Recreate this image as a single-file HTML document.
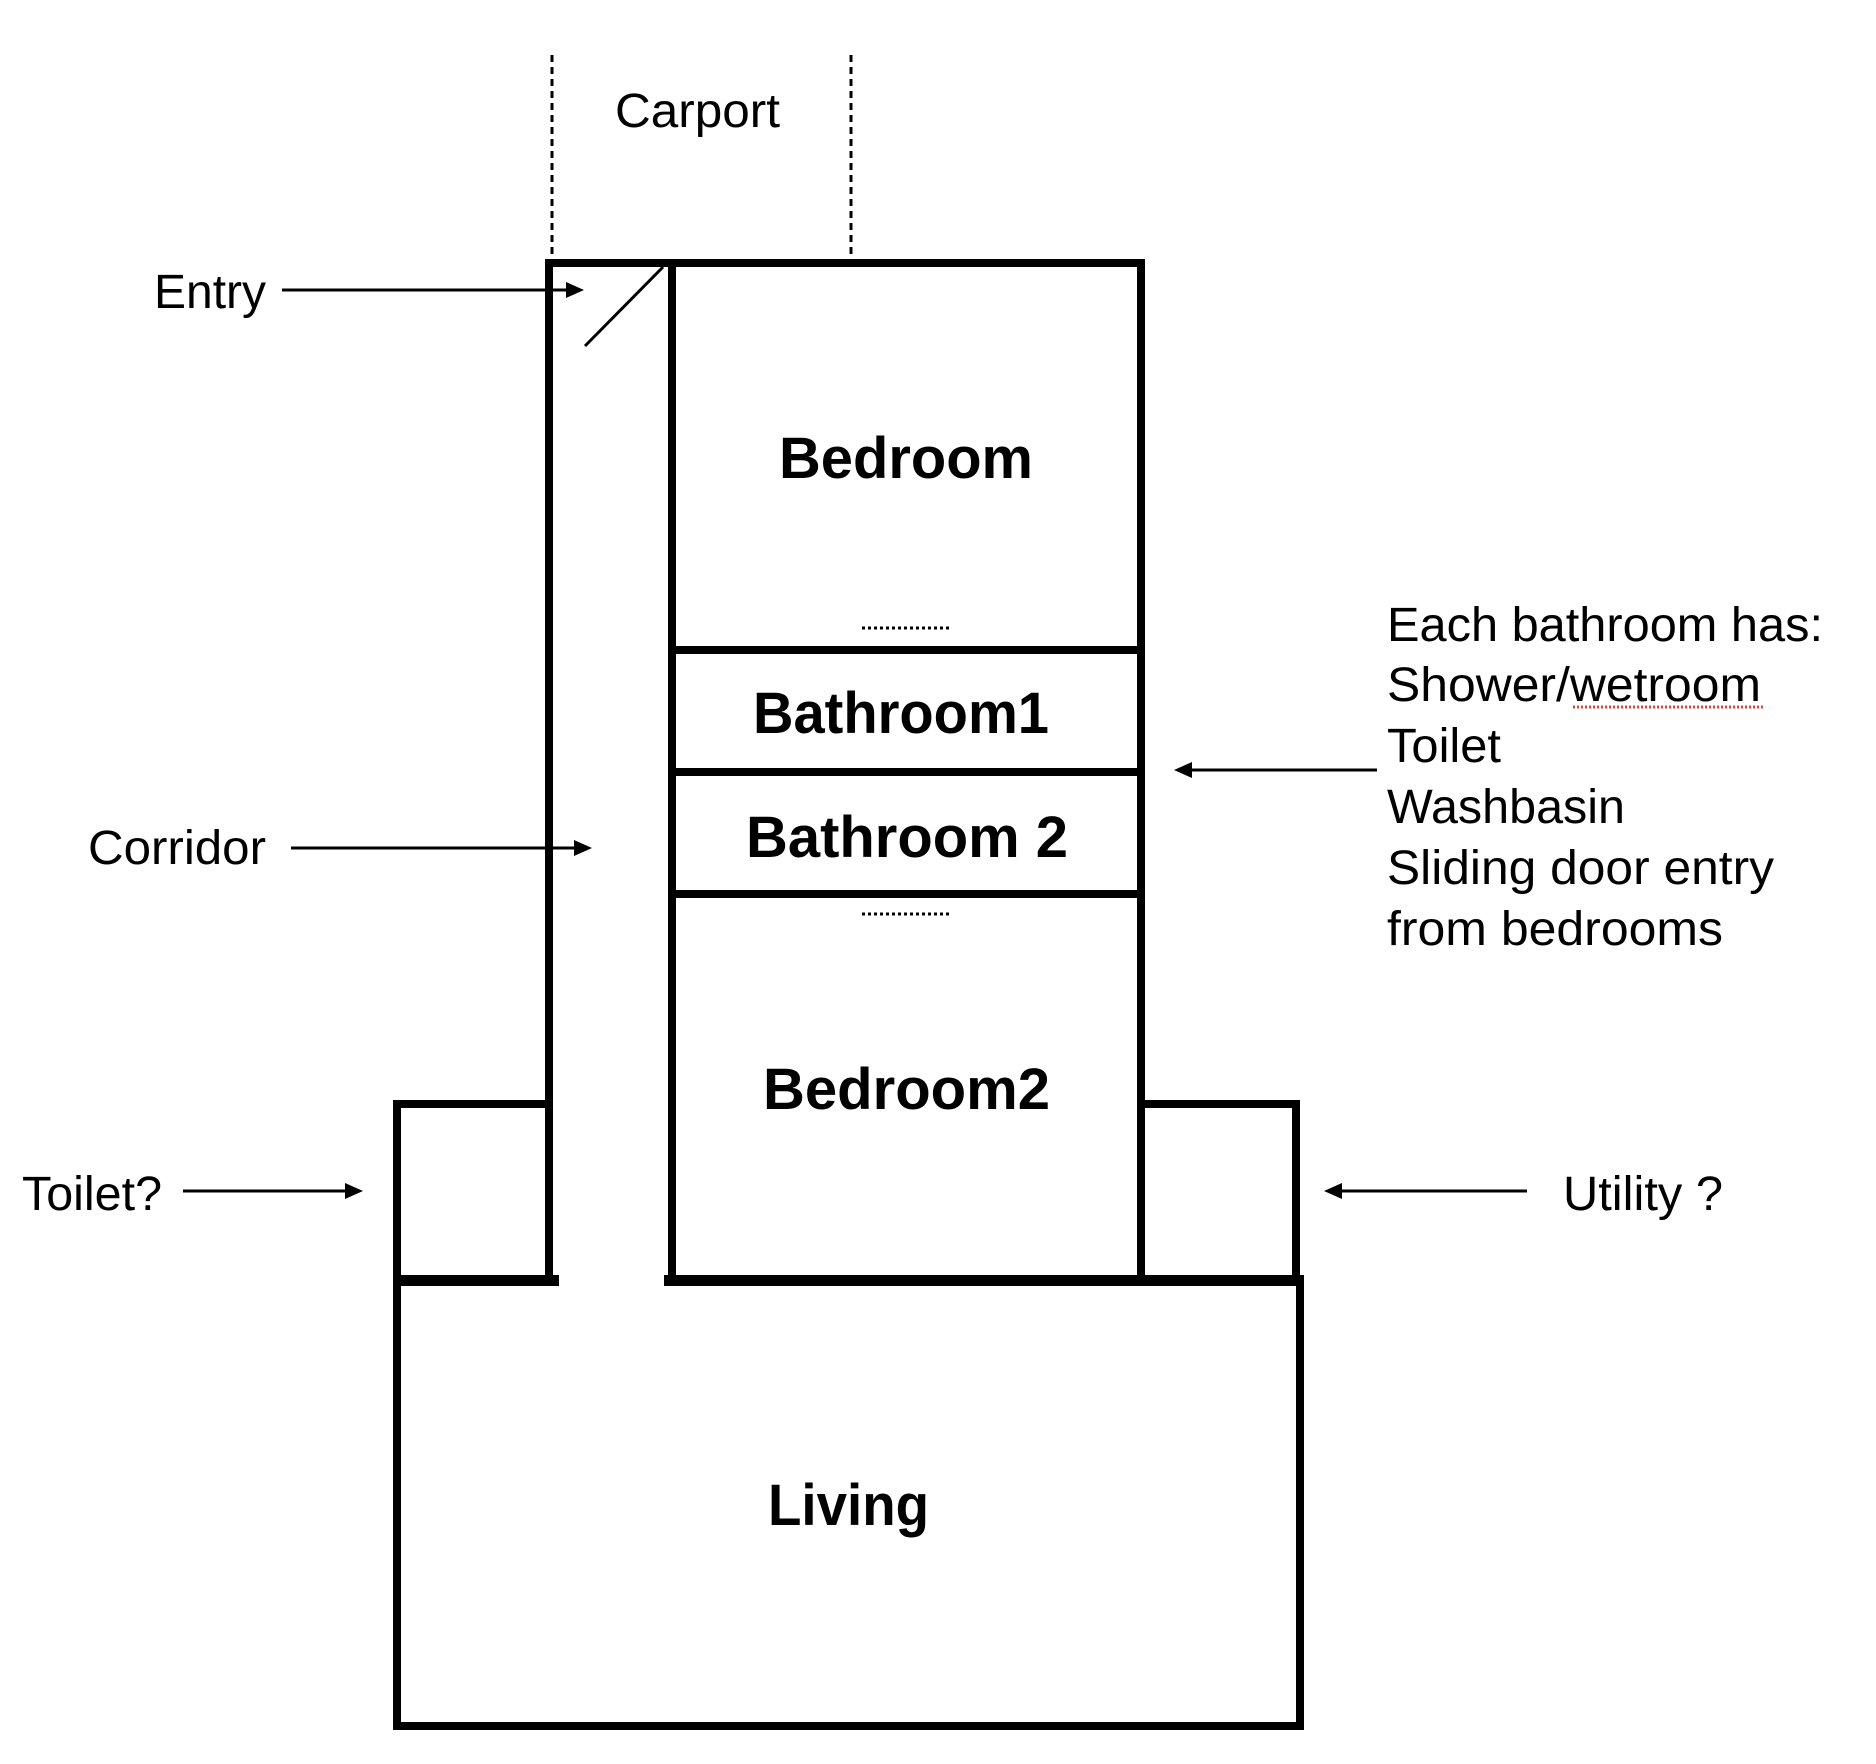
<!DOCTYPE html>
<html><head><meta charset="utf-8"><style>html,body{margin:0;padding:0;background:#fff}svg{display:block}</style></head>
<body>
<svg width="1876" height="1764" viewBox="0 0 1876 1764" xmlns="http://www.w3.org/2000/svg" font-family="'Liberation Sans', Arial, sans-serif">
<g stroke="#000" stroke-width="3" stroke-dasharray="7,5" fill="none">
<line x1="552" y1="55" x2="552" y2="255"/>
<line x1="851" y1="55" x2="851" y2="255"/>
</g>
<g stroke="#000" stroke-width="8" fill="none" stroke-linecap="square">
<line x1="549" y1="263" x2="1141" y2="263"/>
<line x1="549" y1="263" x2="549" y2="1280"/>
<line x1="672" y1="263" x2="672" y2="1280"/>
<line x1="1141" y1="263" x2="1141" y2="1280"/>
<line x1="672" y1="650" x2="1141" y2="650"/>
<line x1="672" y1="772" x2="1141" y2="772"/>
<line x1="672" y1="894" x2="1141" y2="894"/>
<line x1="397" y1="1104" x2="549" y2="1104"/>
<line x1="397" y1="1104" x2="397" y2="1280"/>
<line x1="1141" y1="1104" x2="1296" y2="1104"/>
<line x1="1296" y1="1104" x2="1296" y2="1280"/>
<line x1="397" y1="1280" x2="397" y2="1726"/>
<line x1="397" y1="1726" x2="1300" y2="1726"/>
<line x1="1300" y1="1286" x2="1300" y2="1726"/>
</g>
<g fill="#000">
<rect x="393" y="1275" width="166" height="11"/>
<rect x="664" y="1275" width="640" height="11"/>
</g>
<line x1="663" y1="267" x2="585" y2="346" stroke="#000" stroke-width="3"/>
<g stroke="#000" stroke-width="3" stroke-dasharray="3,3">
<line x1="862" y1="628" x2="952" y2="628"/>
<line x1="862" y1="914" x2="952" y2="914"/>
</g>
<g stroke="#000" stroke-width="3">
<line x1="282" y1="290" x2="570" y2="290"/>
<line x1="291" y1="848" x2="578" y2="848"/>
<line x1="183" y1="1191" x2="350" y2="1191"/>
<line x1="1337" y1="1191" x2="1527" y2="1191"/>
<line x1="1188" y1="770" x2="1377" y2="770"/>
</g>
<g fill="#000">
<polygon points="584,290 566,282 566,298"/>
<polygon points="592,848 574,840 574,856"/>
<polygon points="363,1191 345,1183 345,1199"/>
<polygon points="1324,1191 1342,1183 1342,1199"/>
<polygon points="1174,770 1192,762 1192,778"/>
</g>
<g font-size="48" fill="#000">
<text x="615" y="127" textLength="165" lengthAdjust="spacingAndGlyphs">Carport</text>
<text x="154" y="308" textLength="112" lengthAdjust="spacingAndGlyphs">Entry</text>
<text x="88" y="864" textLength="178" lengthAdjust="spacingAndGlyphs">Corridor</text>
<text x="22" y="1210" textLength="140" lengthAdjust="spacingAndGlyphs">Toilet?</text>
<text x="1563" y="1210" textLength="160" lengthAdjust="spacingAndGlyphs">Utility ?</text>
<text x="1387" y="641" textLength="436" lengthAdjust="spacingAndGlyphs">Each bathroom has:</text>
<text x="1387" y="701" textLength="374" lengthAdjust="spacingAndGlyphs">Shower/wetroom</text>
<text x="1387" y="762" textLength="114" lengthAdjust="spacingAndGlyphs">Toilet</text>
<text x="1387" y="823" textLength="238" lengthAdjust="spacingAndGlyphs">Washbasin</text>
<text x="1387" y="884" textLength="387" lengthAdjust="spacingAndGlyphs">Sliding door entry</text>
<text x="1387" y="945" textLength="336" lengthAdjust="spacingAndGlyphs">from bedrooms</text>
</g>
<line x1="1573" y1="707" x2="1764" y2="707" stroke="#e0443a" stroke-width="3" stroke-dasharray="2,2"/>
<g font-size="58" font-weight="bold" fill="#000">
<text x="779" y="478" textLength="254" lengthAdjust="spacingAndGlyphs">Bedroom</text>
<text x="753" y="733" textLength="296" lengthAdjust="spacingAndGlyphs">Bathroom1</text>
<text x="746" y="857" textLength="322" lengthAdjust="spacingAndGlyphs">Bathroom 2</text>
<text x="763" y="1109" textLength="287" lengthAdjust="spacingAndGlyphs">Bedroom2</text>
<text x="768" y="1525" textLength="161" lengthAdjust="spacingAndGlyphs">Living</text>
</g>
</svg>
</body></html>
